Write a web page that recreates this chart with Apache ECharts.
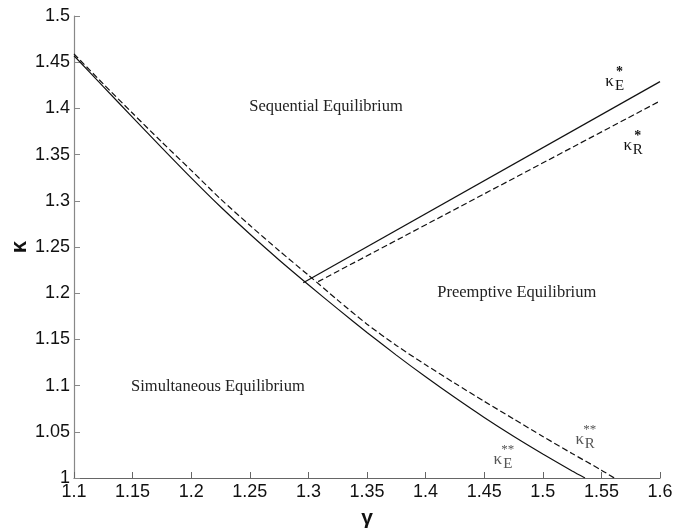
<!DOCTYPE html>
<html>
<head>
<meta charset="utf-8">
<script src="https://cdn.jsdelivr.net/npm/echarts@6/dist/echarts.min.js"></script>
<style>
  html, body { margin: 0; padding: 0; background: #fff; }
  #chart { width: 686px; height: 528px; }
</style>
</head>
<body>
<div id="chart"></div>
<script>
// kappa_E** (solid) and kappa_R** (dashed) boundaries
var gammaE = [1.1, 1.125, 1.15, 1.175, 1.2, 1.225, 1.25, 1.275, 1.3, 1.325, 1.35, 1.375, 1.4, 1.425, 1.45, 1.475, 1.5, 1.525, 1.536];
var kappaE = [1.457, 1.4235, 1.3903, 1.3573, 1.3248, 1.2935, 1.264, 1.236, 1.2092, 1.183, 1.1575, 1.133, 1.1095, 1.087, 1.0655, 1.0452, 1.026, 1.0075, 1.0];
var gammaR = [1.1, 1.125, 1.15, 1.175, 1.2, 1.225, 1.25, 1.275, 1.3, 1.325, 1.35, 1.375, 1.4, 1.425, 1.45, 1.475, 1.5, 1.525, 1.55, 1.561];
var kappaR = [1.459, 1.4265, 1.3947, 1.3635, 1.333, 1.302, 1.2735, 1.246, 1.2195, 1.1925, 1.1665, 1.1435, 1.1225, 1.1025, 1.083, 1.064, 1.045, 1.0265, 1.0085, 1.0];

// kappa_E* (solid) and kappa_R* (dashed) straight lines
var gammaEStar = [1.2956, 1.6];
var kappaEStar = [1.2114, 1.429];
var gammaRStar = [1.3083, 1.6];
var kappaRStar = [1.2125, 1.408];

// region labels
var regionNames = ['Sequential Equilibrium', 'Preemptive Equilibrium', 'Simultaneous Equilibrium'];
var regionAt = [[1.315, 1.4015], [1.4778, 1.2002], [1.2228, 1.0985]];

// curve labels: [gamma, kappa, subscript, superscript, grey]
var curveLabels = [
    [1.557, 1.4286, 'E', '*', false],
    [1.5725, 1.3593, 'R', '*', false],
    [1.4616, 1.0195, 'E', '**', true],
    [1.5315, 1.0411, 'R', '**', true]
];

function pairs(xs, ys) {
    var out = [];
    for (var i = 0; i < xs.length; i++) out.push([xs[i], ys[i]]);
    return out;
}

function lineSeries(xs, ys, dashed) {
    return {
        type: 'line',
        data: pairs(xs, ys),
        showSymbol: false,
        symbol: 'none',
        smooth: 0.25,
        silent: true,
        lineStyle: {
            color: '#111',
            width: 1.2,
            type: dashed ? [6, 3] : 'solid'
        }
    };
}

var chart = echarts.init(document.getElementById('chart'));

var tickFmt = function (v) { return String(parseFloat(v.toFixed(2))); };

var option = {
    animation: false,
    backgroundColor: '#fff',
    grid: { left: 74, right: 26, top: 16, bottom: 50, containLabel: false, outerBoundsMode: 'none' },
    xAxis: {
        type: 'value',
        min: 1.1, max: 1.6, interval: 0.05,
        name: 'γ',
        nameLocation: 'middle',
        nameGap: 30,
        nameMoveOverlap: false,
        nameTextStyle: { fontFamily: 'Liberation Sans', fontSize: 21, fontWeight: 'bold', color: '#111' },
        axisLine: { show: true, lineStyle: { color: '#666', width: 1.2 } },
        axisTick: { show: true, inside: true, length: 6, lineStyle: { color: '#666' } },
        splitLine: { show: false },
        axisLabel: { formatter: tickFmt, fontFamily: 'Liberation Sans', fontSize: 18, color: '#111', margin: 5 }
    },
    yAxis: {
        type: 'value',
        min: 1, max: 1.5, interval: 0.05,
        name: 'κ',
        nameLocation: 'middle',
        nameGap: 43,
        nameMoveOverlap: false,
        nameRotate: 90,
        nameTextStyle: { fontFamily: 'Liberation Sans', fontSize: 22, fontWeight: 'bold', color: '#111' },
        axisLine: { show: true, lineStyle: { color: '#888', width: 1.2 } },
        axisTick: { show: true, inside: true, length: 6, lineStyle: { color: '#888' } },
        splitLine: { show: false },
        axisLabel: { formatter: tickFmt, fontFamily: 'Liberation Sans', fontSize: 18, color: '#111', margin: 4 }
    },
    series: [
        lineSeries(gammaE, kappaE, false),
        lineSeries(gammaR, kappaR, true),
        lineSeries(gammaEStar, kappaEStar, false),
        lineSeries(gammaRStar, kappaRStar, true)
    ]
};

chart.setOption(option);

// text annotations placed through the axes
var texts = [];
regionNames.forEach(function (name, i) {
    var p = chart.convertToPixel({ gridIndex: 0 }, regionAt[i]);
    texts.push({
        type: 'text', x: p[0], y: p[1], silent: true,
        style: {
            text: name, fill: '#222', align: 'center', verticalAlign: 'middle',
            font: '16.5px "Liberation Serif", serif'
        }
    });
});

curveLabels.forEach(function (c) {
    var p = chart.convertToPixel({ gridIndex: 0 }, [c[0], c[1]]);
    var col = c[4] ? '#555' : '#111';
    texts.push({
        type: 'text', x: p[0], y: p[1], silent: true,
        style: { text: 'κ', fill: col, align: 'center', verticalAlign: 'middle', font: '17px "Liberation Serif", serif' }
    });
    texts.push({
        type: 'text', x: p[0] + 10, y: p[1] + 4, silent: true,
        style: { text: c[2], fill: col, align: 'center', verticalAlign: 'middle', font: '15px "Liberation Serif", serif' }
    });
    texts.push({
        type: 'text', x: p[0] + 10, y: p[1] - 10, silent: true,
        style: { text: c[3], fill: col, align: 'center', verticalAlign: 'middle', font: (c[4] ? '13px' : 'bold 14px') + ' "Liberation Serif", serif' }
    });
});

chart.setOption({ graphic: texts });
</script>
</body>
</html>
